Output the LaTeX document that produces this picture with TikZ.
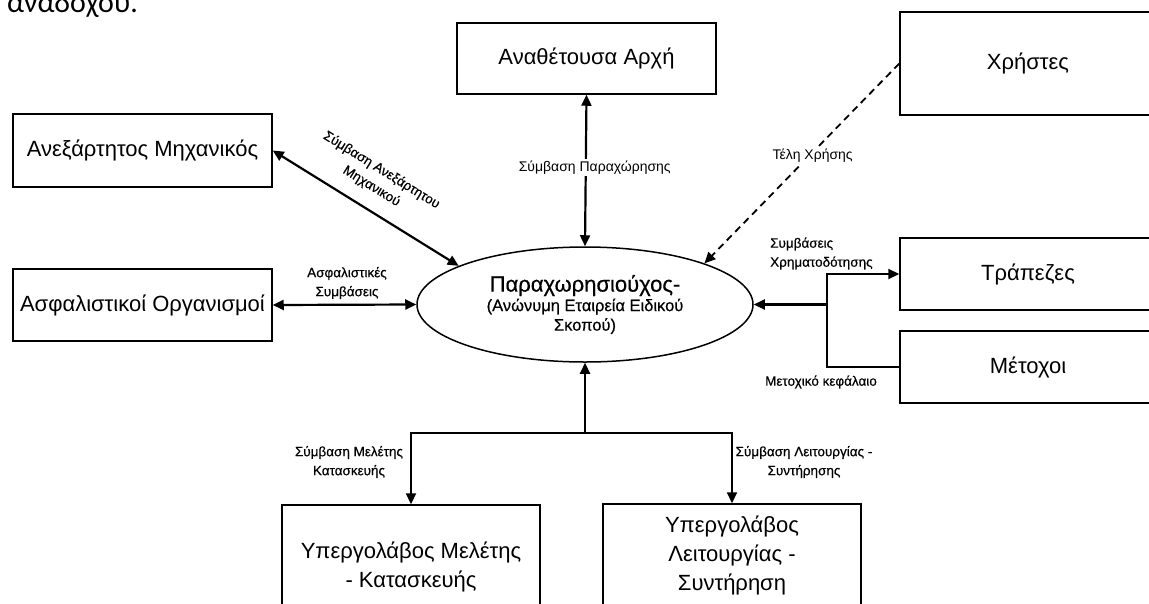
\documentclass[tikz,border=0pt]{standalone}
\usepackage{fontspec}
\setmainfont{Liberation Sans}
\newfontfamily\calibfont{Carlito}
\newfontfamily\boldlbl[FakeBold=0.5]{Liberation Sans}
\usetikzlibrary{arrows.meta,shapes.geometric}
\begin{document}
\begin{tikzpicture}[x=1pt,y=-1pt,
  box/.style={draw, line width=1.5pt, rectangle, inner sep=0pt, align=center,
    font=\fontsize{22}{29}\selectfont},
  conn/.style={line width=2.2pt},
  tipend/.style={-{Triangle[length=11pt,width=10pt]}},
  tipboth/.style={{Triangle[length=11pt,width=10pt]}-{Triangle[length=11pt,width=10pt]}},
  lbl/.style={font=\fontsize{14}{18}\selectfont, inner sep=1.5pt},
  lblb/.style={font=\boldlbl\fontsize{13.5}{19}\selectfont, inner sep=1pt},
  dashline/.style={line width=1.8pt, dash pattern=on 7pt off 5pt}
]
\useasboundingbox (0,0) rectangle (1149,603);
\clip (0,0) rectangle (1149,603);

% cut-off heading text
\node[anchor=base west, inner sep=0pt, font=\calibfont\fontsize{30}{30}\selectfont] (hdr) at (7,12) {αναδόχου.};

% boxes
\node[box, minimum width=259pt, minimum height=71pt] (anath) at (586.5,58.5) {Αναθέτουσα Αρχή};
\node[box, minimum width=256pt, minimum height=103pt] (users) at (1028,63.5) {Χρήστες};
\node[box, minimum width=259pt, minimum height=73pt] (indep) at (142.5,150.5) {Ανεξάρτητος Μηχανικός};
\node[box, minimum width=259pt, minimum height=72pt] (insur) at (142.5,305) {Ασφαλιστικοί Οργανισμοί};
\node[box, minimum width=256pt, minimum height=72pt] (banks) at (1028,274) {Τράπεζες};
\node[box, minimum width=256pt, minimum height=72pt] (share) at (1028,367) {Μέτοχοι};
\node[box, minimum width=258pt, minimum height=124pt] (subA) at (411,567) {Υπεργολάβος Μελέτης\\- Κατασκευής};
\node[box, minimum width=258pt, minimum height=102pt] (subB) at (732,555) {Υπεργολάβος\\Λειτουργίας -\\Συντήρηση};

% central ellipse
\node[ellipse, draw, line width=1.5pt, minimum width=336pt, minimum height=115pt, inner sep=0pt,
  align=center, font=\boldlbl\fontsize{16.5}{19.5}\selectfont] (el) at (585,304.5)
  {{\fontsize{22}{25}\selectfont Παραχωρησιούχος-}\\(Ανώνυμη Εταιρεία Ειδικού\\Σκοπού)};

% connectors
\draw[conn, tipboth] (anath.south) -- node[lbl, fill=white, pos=0.48, xshift=9pt] (lpar) {Σύμβαση Παραχώρησης} (el.north);
\draw[conn, tipboth] (indep.east) -- node[lblb, sloped, above=13pt, pos=0.47, align=center] (lind) {Σύμβαση Ανεξάρτητου\\Μηχανικού} (el.163);
\draw[conn, tipboth] (insur.east) -- (el.west);
\draw[dashline, tipend] (users.west) -- node[lbl, fill=white, pos=0.46, xshift=3pt] (ltel) {Τέλη Χρήσης} (el.19);

\coordinate (jr) at (827,304.5);
\draw[conn, tipend] (jr) -- (el.east);
\draw[conn, tipend] (jr) |- (banks.west);
\draw[conn] (jr) |- (share.west);

\coordinate (jb) at (585,433);
\draw[conn, tipend] (jb) -- (el.south);
\draw[conn, tipend] (jb) -| (subA.north);
\draw[conn, tipend] (jb) -| (subB.north);

% labels
\node[lblb, align=center] (lasf) at (347,283) {Ασφαλιστικές\\Συμβάσεις};
\node[lblb, align=left, anchor=west] (lfin) at (769,253.5) {Συμβάσεις\\Χρηματοδότησης};
\node[lblb] (lmet) at (821,382) {Μετοχικό κεφάλαιο};
\node[lblb, align=center] (lmel) at (349,462) {Σύμβαση Μελέτης\\Κατασκευής};
\node[lblb, align=center] (lleit) at (804,462) {Σύμβαση Λειτουργίας -\\Συντήρησης};
\end{tikzpicture}
\end{document}
